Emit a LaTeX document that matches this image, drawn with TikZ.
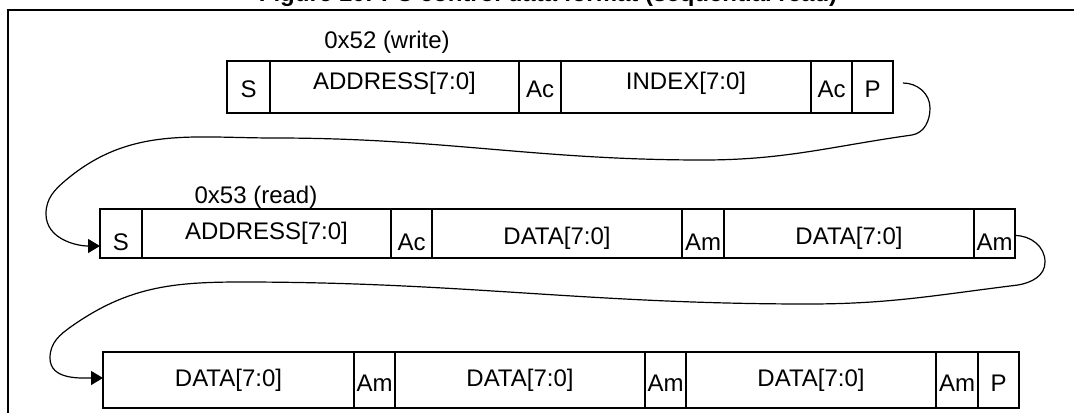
\documentclass[tikz,border=0pt]{standalone}
\usepackage{fontspec}
\setmainfont{Liberation Sans}
\usetikzlibrary{arrows.meta}
\tikzset{
  cellbox/.style={draw, line width=1pt, inner sep=0pt, outer sep=0pt},
  celltext/.style={anchor=base, inner sep=0pt, font=\fontsize{12}{14}\selectfont},
  titletext/.style={anchor=base, inner sep=0pt, font=\fontsize{12}{14}\selectfont\bfseries},
  frameline/.style={line width=1pt},
  flow/.style={line width=0.6pt, -{Triangle[length=6pt,width=7pt]}},
}
\newcommand\mycell[7]{%
  \pgfmathsetmacro\mycw{(#3-#2)*0.5}%
  \pgfmathsetmacro\mych{(#5-#4)*0.5}%
  \node[cellbox, minimum width=\mycw pt, minimum height=\mych pt, anchor=north west] (#1) at (#2,#4) {};%
  \node[celltext] (#1t) at ({(#2+#3)/2},#7) {#6};%
}
\begin{document}
\begin{tikzpicture}[x=0.5pt, y=-0.5pt]
\useasboundingbox (0,0) rectangle (1074,412);
% clipped title
\node[titletext] (title) at (548,1.8) {Figure 10. I²C control data format (sequential read)};
% frame
\coordinate (fbl) at (8.3,420);
\coordinate (ftl) at (8.3,10);
\coordinate (ftr) at (1080,10);
\draw[frameline] (fbl) -- (ftl) -- (ftr);
% labels
\node[celltext] (lw) at (387,48) {0x52 (write)};
\node[celltext] (lr) at (256,203) {0x53 (read)};
% row 1
\mycell{ras}{227}{270}{61}{113}{S}{97}
\mycell{raaddr}{270}{519}{61}{113}{ADDRESS[7:0]}{89}
\mycell{raack}{519}{561}{61}{113}{Ac}{97}
\mycell{raidx}{561}{811}{61}{113}{INDEX[7:0]}{89}
\mycell{raackb}{811}{852}{61}{113}{Ac}{97}
\mycell{rap}{852}{893}{61}{113}{P}{97}
% row 2
\mycell{rbs}{100}{142}{209}{258}{S}{250}
\mycell{rbaddr}{142}{391}{209}{258}{ADDRESS[7:0]}{239}
\mycell{rback}{391}{432}{209}{258}{Ac}{250}
\mycell{rbda}{432}{682}{209}{258}{DATA[7:0]}{244}
\mycell{rbam}{682}{724}{209}{258}{Am}{250}
\mycell{rbdb}{724}{974}{209}{258}{DATA[7:0]}{244}
\mycell{rbamb}{974}{1015}{209}{258}{Am}{250}
% row 3
\mycell{rcda}{103}{354}{352}{408}{DATA[7:0]}{386}
\mycell{rcam}{354}{395}{352}{408}{Am}{391}
\mycell{rcdb}{395}{645}{352}{408}{DATA[7:0]}{386}
\mycell{rcamb}{645}{686}{352}{408}{Am}{391}
\mycell{rcdc}{686}{936}{352}{408}{DATA[7:0]}{386}
\mycell{rcamc}{936}{978}{352}{408}{Am}{391}
\mycell{rcp}{978}{1019}{352}{408}{P}{391}
% connectors
\draw[flow] ([xshift=5pt,yshift=2pt]rap.east)
  to[out=0,in=90] (930,108)
  to[out=-90,in=10] (912,135)
  to[out=188,in=0] (703,160)
  to[out=180,in=0] (275,138)
  to[out=180,in=40] (66,180)
  to[out=220,in=90] (46,214)
  to[out=-90,in=180] ([yshift=-6.25pt]rbs.west);
\draw[flow] ([yshift=-1pt]rbamb.east)
  to[out=0,in=90] (1045,262)
  to[out=-90,in=10] (1018,285)
  to[out=187,in=0] (808,304)
  to[out=180,in=0] (241,282)
  to[out=180,in=35] (72,326)
  to[out=215,in=90] (50,358)
  to[out=-90,in=180] ([yshift=1pt]rcda.west);
\end{tikzpicture}
\end{document}
